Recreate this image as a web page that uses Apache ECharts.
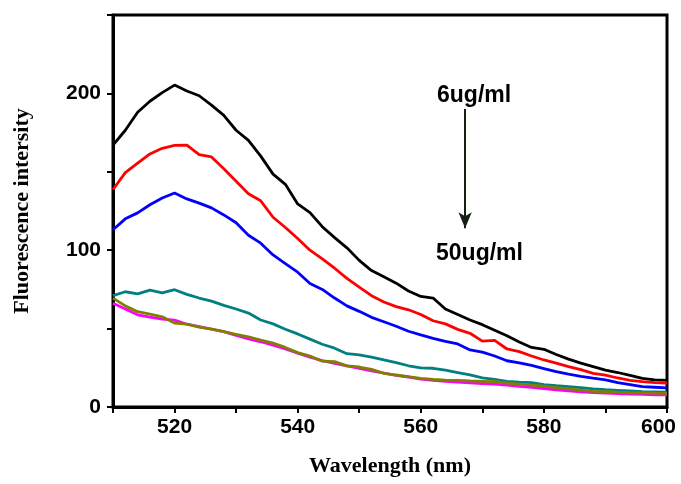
<!DOCTYPE html>
<html>
<head>
<meta charset="utf-8">
<script src="https://cdn.jsdelivr.net/npm/echarts@6/dist/echarts.min.js"></script>
<style>
  html, body { margin: 0; padding: 0; background: #fff; }
  #chart { width: 681px; height: 484px; }
</style>
</head>
<body>
<div id="chart"></div>
<script>
// 波长 510-600 nm，步长 2
const wavelengths = [];
for (let w = 510; w <= 600; w += 2) wavelengths.push(w);

// 各浓度荧光强度
const black = [167, 176.5, 188, 195, 200.5, 205.3, 201.5, 198.5, 192.5, 186, 176.5, 170, 160, 148.5, 142, 129.5, 124, 115, 108, 101.5, 93.5, 87, 83, 79, 74, 70.5, 69.5, 62.5, 59, 55.5, 52.5, 49, 45.5, 41.5, 38, 36.8, 33.5, 30.5, 28, 25.8, 23.5, 22, 20.2, 18.2, 17.3, 17];
const red = [138.7, 149.5, 155.5, 161.4, 165, 166.8, 167, 161, 159.5, 152, 144, 136, 131.5, 121, 114.5, 107.5, 100, 94.5, 88.5, 82, 76.5, 71, 67, 64, 62, 59, 55, 53, 49.5, 47, 42, 42.5, 37, 35.3, 32.5, 30, 28, 25.8, 23.8, 21.5, 20.3, 18.5, 17, 16.2, 15.5, 15.3];
const blue = [113, 120, 123.8, 129, 133.3, 136.5, 132.7, 130, 127, 122.5, 117.5, 109.5, 104.5, 97, 91.5, 86, 78.7, 75, 69.5, 64.5, 61, 57.2, 54.4, 51.5, 48.3, 46, 43.8, 41.8, 40.2, 36.4, 35, 32.5, 29.5, 28.2, 26.5, 24.5, 22.5, 20.9, 19.6, 18.4, 17.3, 15.6, 14.3, 13, 12.6, 12.2];
const teal = [71, 73.5, 72.2, 74.5, 72.8, 74.8, 71.8, 69.5, 67.5, 64.8, 62.5, 59.9, 55.5, 53, 49.6, 46.6, 43.3, 40, 37.5, 34, 33.3, 31.8, 30, 28.3, 26.3, 24.9, 24.7, 23.5, 22, 20.5, 18.6, 17.6, 16.4, 15.9, 15.6, 14.3, 13.6, 13, 12.3, 11.6, 11, 10.6, 10.2, 9.8, 9.6, 9.4];
const magenta = [66.2, 62.5, 58.8, 57.3, 56, 55.4, 52.8, 51.3, 49.7, 48.1, 45.6, 43.5, 41.6, 39.4, 37, 34.4, 31.8, 29.6, 27.8, 26.2, 24.6, 23, 21.6, 20.2, 19, 17.8, 17, 16.4, 15.8, 15.4, 15, 14.6, 14, 13.2, 12.5, 11.8, 11, 10.3, 9.7, 9.2, 8.8, 8.5, 8.2, 8, 7.8, 7.7];
const olive = [69.4, 64.5, 60.8, 59.2, 57.5, 53.5, 52.8, 51, 49.6, 48, 46.3, 44.8, 42.6, 40.7, 38, 34.7, 32.5, 29.2, 28.9, 26.2, 25.5, 24, 21.5, 20.4, 19.4, 18.3, 17.6, 17.2, 16.9, 16.6, 16.4, 16.2, 15.3, 14.6, 13.9, 13.3, 12.4, 11.6, 10.8, 10, 9.8, 9.4, 9.1, 9, 8.8, 8.7];

const xTicks = [520, 540, 560, 580, 600];
const yTicks = [0, 100, 200];

// 箭头（数据坐标）
const arrowX = 567.2;
const arrowFrom = 190;
const arrowTo = 114;

const seriesList = [
  { data: black, color: '#000000' },
  { data: red, color: '#ff0000' },
  { data: blue, color: '#0000ff' },
  { data: teal, color: '#008080' },
  { data: magenta, color: '#ff00ff' },
  { data: olive, color: '#808000' }
];

const labelFont = { fontFamily: 'Liberation Sans', fontWeight: 'bold', fontSize: 21, color: '#000' };

const chart = echarts.init(document.getElementById('chart'));

const option = {
  animation: false,
  grid: {
    left: 113, right: 14, top: 15, bottom: 77,
    outerBoundsMode: 'none',
    containLabel: false,
    show: true, borderColor: '#000', borderWidth: 3, backgroundColor: 'transparent'
  },
  xAxis: {
    type: 'value',
    min: 510, max: 600, interval: 10,
    name: 'Wavelength (nm)',
    nameLocation: 'middle',
    nameGap: 48,
    nameTextStyle: { fontFamily: 'Liberation Serif', fontWeight: 'bold', fontSize: 22, color: '#000' },
    axisLine: { lineStyle: { color: '#000', width: 3 } },
    axisTick: { inside: false, length: 6, lineStyle: { color: '#000', width: 2 } },
    axisLabel: {
      margin: 10,
      ...labelFont,
      formatter: v => {
        if (!xTicks.includes(v)) return '';
        // 最右侧标签略向左移，避免被裁切
        return v === 600 ? '{edge|' + v + '}' : String(v);
      },
      rich: {
        edge: { ...labelFont, padding: [0, 17, 0, 0] }
      }
    },
    splitLine: { show: false }
  },
  yAxis: {
    type: 'value',
    min: 0, max: 250, interval: 50,
    name: 'Fluorescence intersity',
    nameLocation: 'middle',
    nameGap: 80,
    nameTextStyle: { fontFamily: 'Liberation Serif', fontWeight: 'bold', fontSize: 22, color: '#000' },
    axisLine: { lineStyle: { color: '#000', width: 3 } },
    axisTick: { inside: false, length: 6, lineStyle: { color: '#000', width: 2 } },
    axisLabel: {
      margin: 12,
      ...labelFont,
      formatter: v => yTicks.includes(v) ? String(v) : ''
    },
    splitLine: { show: false }
  },
  series: seriesList.map((s, i) => ({
    type: 'line',
    data: wavelengths.map((w, k) => [w, s.data[k]]),
    showSymbol: false,
    smooth: false,
    lineStyle: { color: s.color, width: 2.8 },
    itemStyle: { color: s.color },
    z: 2 + i,
    markLine: i === 0 ? {
      silent: true,
      symbol: ['none', 'arrow'],
      symbolSize: [10, 16],
      label: { show: false },
      lineStyle: { color: '#142010', width: 2, type: 'solid' },
      data: [[{ coord: [arrowX, arrowFrom] }, { coord: [arrowX, arrowTo] }]]
    } : undefined
  })),
  graphic: [
    {
      type: 'text', left: 437, top: 84,
      style: { text: '6ug/ml', font: 'bold 23px "Liberation Sans"', fill: '#000' }
    },
    {
      type: 'text', left: 436, top: 242,
      style: { text: '50ug/ml', font: 'bold 23px "Liberation Sans"', fill: '#000' }
    }
  ]
};

chart.setOption(option);
</script>
</body>
</html>
